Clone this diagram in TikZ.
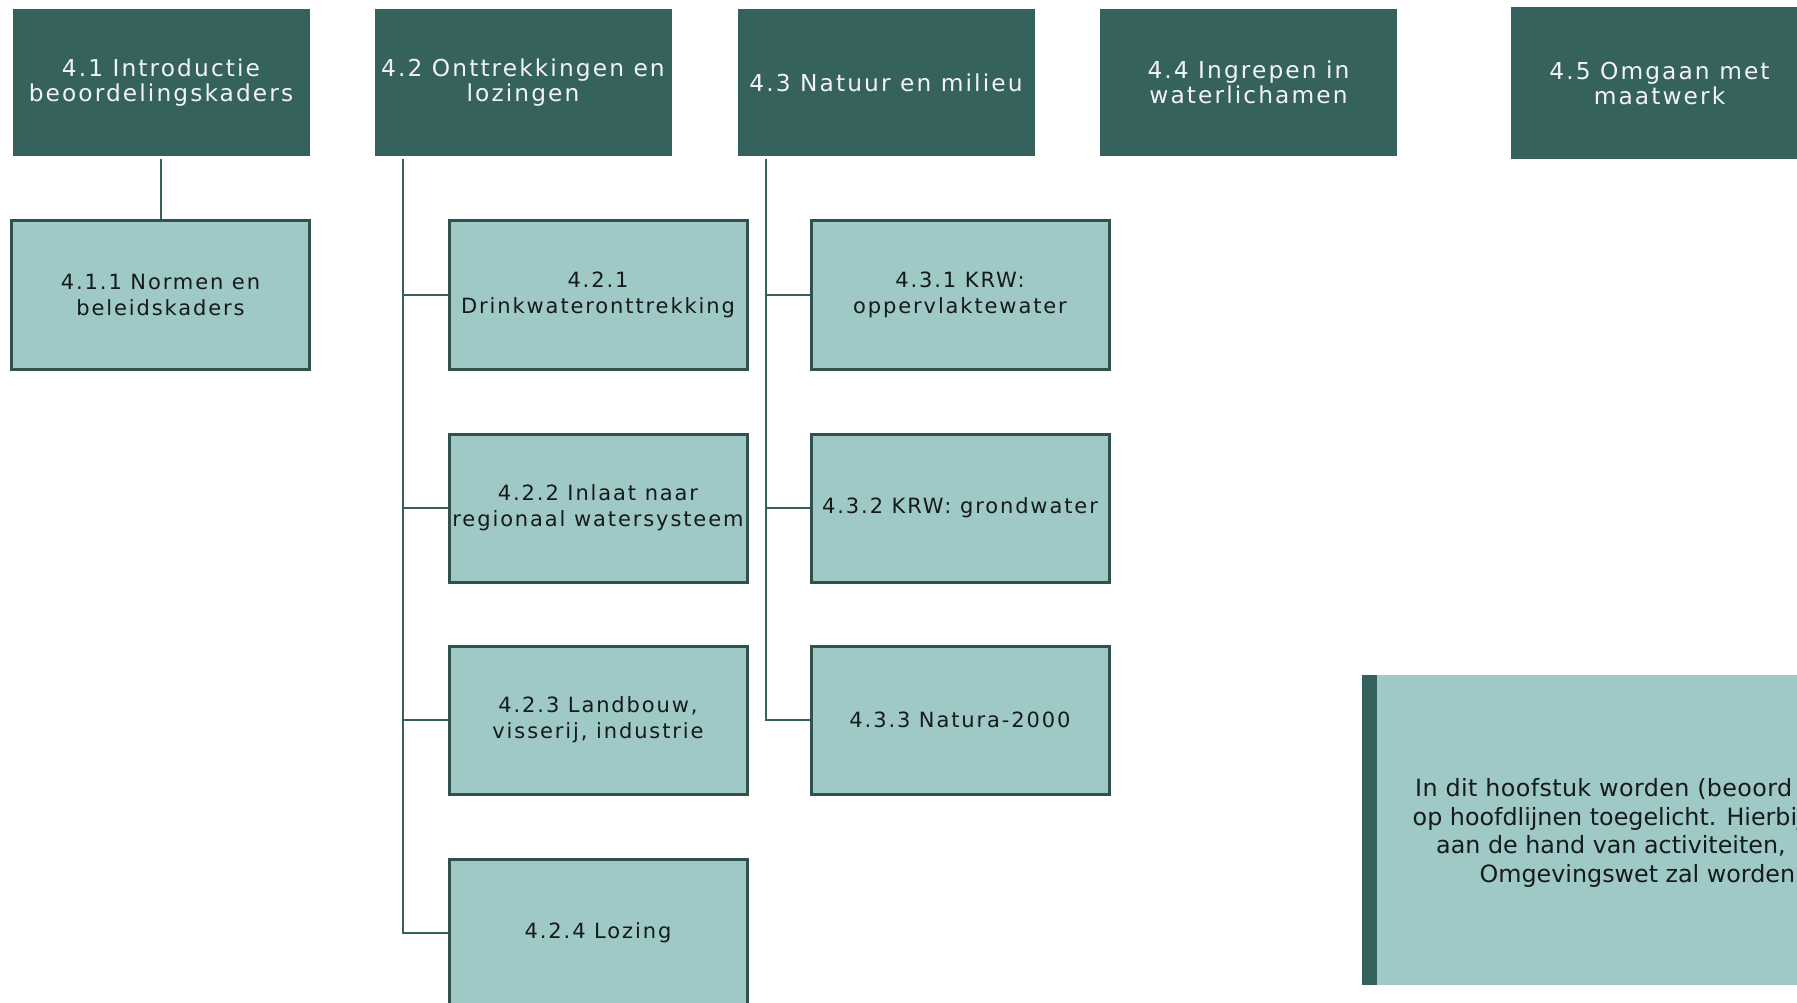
\documentclass[tikz,border=0pt]{standalone}
\usepackage{fontspec}
\setmainfont{DejaVu Sans}
\newfontfamily\boxfont[LetterSpace=9]{DejaVu Sans}
\newfontfamily\notefont{DejaVu Sans}
\newfontfamily\notefontwide[LetterSpace=1.6]{DejaVu Sans}
\definecolor{tealdark}{HTML}{36625E}
\definecolor{teallight}{HTML}{9FC9C7}
\definecolor{tealedge}{HTML}{2F524D}
\definecolor{titletext}{HTML}{F2F4F3}
\definecolor{bodytext}{HTML}{151A1A}
\tikzset{
  chapter/.style={rectangle, fill=tealdark, draw=none, minimum width=297pt,
    minimum height=147pt, inner sep=0pt, align=center, text=titletext,
    font=\boxfont\fontsize{23.3}{25.4}\selectfont},
  section/.style={rectangle, fill=teallight, draw=tealedge, line width=3pt,
    minimum width=298pt, minimum height=148pt, inner sep=0pt, align=center,
    text=bodytext, font=\boxfont\fontsize{21}{25.6}\selectfont},
  link/.style={draw=tealdark, line width=2.6pt},
  noteline/.style={anchor=base west, inner sep=0pt, text=bodytext,
    font=\notefont\fontsize{23.8}{28.6}\selectfont},
}
\begin{document}
\begin{tikzpicture}[x=1pt,y=-1pt]
\clip (0,0) rectangle (1797,1003);
\fill[white] (0,0) rectangle (1797,1003);

% chapter headers
\node[chapter] (t1) at (161,82.5) {4.1 Introductie\\beoordelingskaders};
\node[chapter] (t2) at (523,82.5) {4.2 Onttrekkingen en\\lozingen};
\node[chapter] (t3) at (886,82.5) {4.3 Natuur en milieu};
\node[chapter] (t4) at (1248.5,82.5) {4.4 Ingrepen in\\waterlichamen};
\node[chapter, minimum height=152pt] (t5) at (1659.5,83.5) {4.5 Omgaan met\\maatwerk};

% sections
\node[section] (s11) at (160.5,295) {4.1.1 Normen en\\beleidskaders};
\node[section] (s21) at (598,295) {4.2.1\\Drinkwateronttrekking};
\node[section] (s22) at (598,508) {4.2.2 Inlaat naar\\regionaal watersysteem};
\node[section] (s23) at (598,720) {4.2.3 Landbouw,\\visserij, industrie};
\node[section] (s24) at (598,933) {4.2.4 Lozing};
\node[section] (s31) at (960,295) {4.3.1 KRW:\\oppervlaktewater};
\node[section] (s32) at (960,508) {4.3.2 KRW: grondwater};
\node[section] (s33) at (960,720) {4.3.3 Natura-2000};

% connectors
\coordinate (b1) at ([yshift=-2.5pt]t1.south);
\coordinate (b2) at ([xshift=28.8pt,yshift=-2.5pt]t2.south west);
\coordinate (b3) at ([xshift=28.6pt,yshift=-2.5pt]t3.south west);
\draw[link] (b1) -- (b1 |- s11.north);
\draw[link] (b2) |- (s24.west);
\draw[link] (b2) |- (s21.west);
\draw[link] (b2) |- (s22.west);
\draw[link] (b2) |- (s23.west);
\draw[link] (b3) |- (s33.west);
\draw[link] (b3) |- (s31.west);
\draw[link] (b3) |- (s32.west);

% explanatory note
\node[rectangle, fill=teallight, minimum width=450pt, minimum height=310pt,
  anchor=north west, inner sep=0pt] (note) at (1361.5,675) {};
\node[rectangle, fill=tealdark, minimum width=15.5pt, minimum height=310pt,
  anchor=north west, inner sep=0pt] (notebar) at (note.north west) {};
\node[noteline, font=\notefontwide\fontsize{23.8}{28.6}\selectfont] (n1) at (1415,796.5) {In dit hoofstuk worden (beoord};
\node[noteline] (n2) at (1412.5,825) {op hoofdlijnen toegelicht. Hierbij};
\node[noteline] (n3) at (1436,853.5) {aan de hand van activiteiten,};
\node[noteline] (n4) at (1479.5,882) {Omgevingswet zal worden};
\end{tikzpicture}
\end{document}
